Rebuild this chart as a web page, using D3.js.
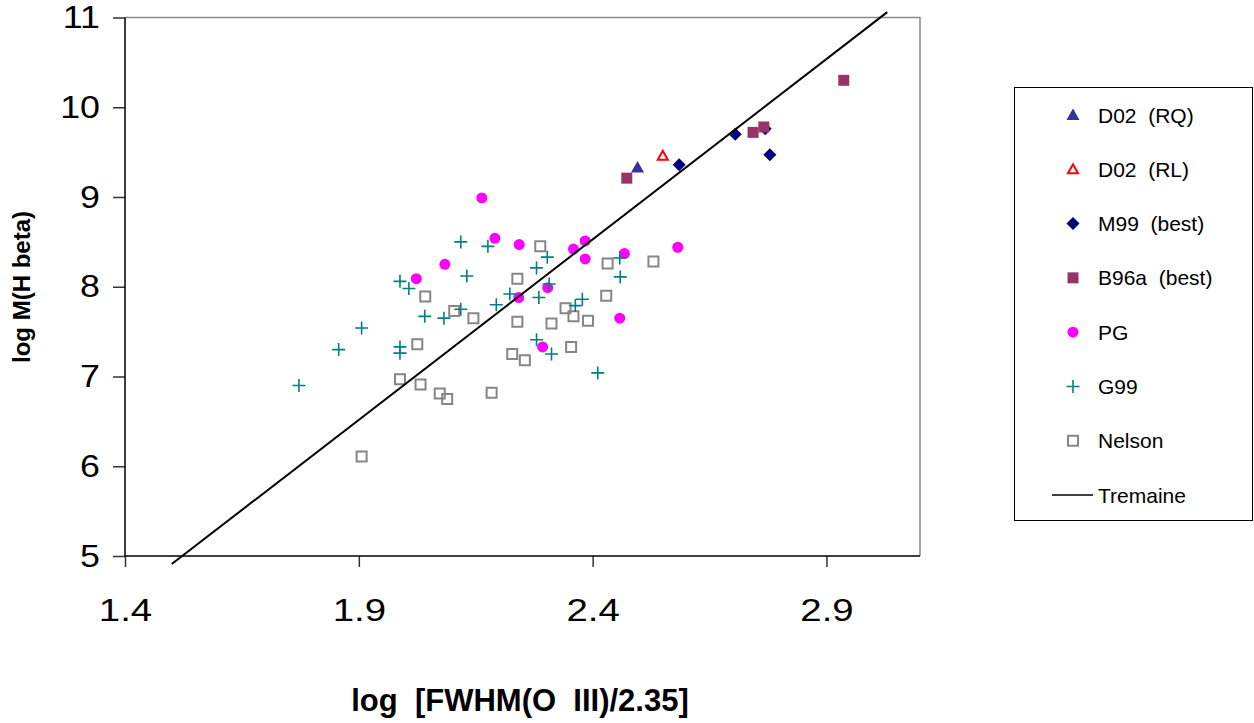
<!DOCTYPE html>
<html>
<head>
<meta charset="utf-8">
<script src="https://cdn.jsdelivr.net/npm/d3@7/dist/d3.min.js"></script>
<style>
	body { margin: 0; background: #fff; }
	svg { display: block; font-family: "Liberation Sans", Arial, sans-serif; }
	.tick line { stroke: #333; stroke-width: 1.5; }
	.tick text { fill: #000; }
	.domain { display: none; }
</style>
</head>
<body>
<div id="chart"></div>
<script>
// DATA
var seriesNames = ["D02  (RQ)", "D02  (RL)", "M99  (best)", "B96a  (best)", "PG", "G99", "Nelson", "Tremaine"];

var d02rqX = [2.496],
	d02rqY = [9.33];

var d02rlX = [2.550],
	d02rlY = [9.46];

var m99X = [2.585, 2.705, 2.769, 2.779],
	m99Y = [9.36, 9.70, 9.76, 9.47];

var b96X = [2.473, 2.743, 2.766, 2.937],
	b96Y = [9.21, 9.72, 9.78, 10.30];

var pgX = [2.163, 2.191, 2.084, 2.023, 2.243, 2.359, 2.384, 2.384, 2.468, 2.582, 2.304, 2.242, 2.458, 2.293],
	pgY = [8.99, 8.54, 8.25, 8.09, 8.47, 8.42, 8.51, 8.31, 8.37, 8.44, 7.99, 7.88, 7.65, 7.33];

var g99X = [1.772, 1.857, 1.906, 1.988, 2.007, 1.988, 1.988, 2.041, 2.082, 2.118, 2.131, 2.118, 2.176,
		2.194, 2.223, 2.280, 2.303, 2.307, 2.285, 2.280, 2.312, 2.363, 2.378, 2.411, 2.458, 2.459],
	g99Y = [6.90, 7.30, 7.54, 8.06, 7.98, 7.33, 7.26, 7.67, 7.65, 8.50, 8.12, 7.75, 8.45,
		7.80, 7.92, 8.21, 8.33, 8.03, 7.88, 7.41, 7.25, 7.79, 7.86, 7.04, 8.32, 8.11];

var nelsonX = [1.906, 1.988, 2.025, 2.032, 2.042, 2.073, 2.089, 2.104, 2.145, 2.184, 2.228, 2.239,
		2.239, 2.255, 2.288, 2.312, 2.342, 2.359, 2.354, 2.390, 2.429, 2.432, 2.530],
	nelsonY = [6.11, 6.97, 7.36, 6.91, 7.89, 6.81, 6.75, 7.73, 7.65, 6.82, 7.25, 7.61,
		8.09, 7.18, 8.45, 7.59, 7.76, 7.67, 7.33, 7.62, 7.90, 8.26, 8.28];

var tremaineX = [1.50, 3.03],
	tremaineY = [4.91, 11.06];

var xTicks = [1.4, 1.9, 2.4, 2.9],
	yTicks = [5, 6, 7, 8, 9, 10, 11];

// SETUP
var W = 1254, H = 723;
var plot = { left: 125, right: 920, top: 17.5, bottom: 556 };

var svg = d3.select("#chart").append("svg")
	.attr("width", W)
	.attr("height", H);

var x = d3.scaleLinear().domain([1.4, 3.1]).range([plot.left, plot.right]),
	y = d3.scaleLinear().domain([5, 11]).range([plot.bottom, plot.top]);

function zip(xs, ys) {
	return xs.map(function(v, i) { return [v, ys[i]]; });
}

// marker shapes
var shapes = {
	triangle: "M0,-6.5L6.5,5L-6.5,5Z",
	otri: "M0,-5L5,4L-5,4Z",
	diamond: "M0,-6.5L6.5,0L0,6.5L-6.5,0Z",
	square: "M-5.5,-5.5H5.5V5.5H-5.5Z",
	osquare: "M-5,-5H5V5H-5Z",
	plus: "M-6.5,0H6.5M0,-6.5V6.5",
	circle: "M5.5,0A5.5,5.5 0 1,1 -5.5,0A5.5,5.5 0 1,1 5.5,0Z"
};

// series, in drawing order (later ones are on top)
var series = [
	{ pts: zip(pgX, pgY), shape: "circle", fill: "#ff00ff", stroke: "none", sw: 0 },
	{ pts: zip(nelsonX, nelsonY), shape: "osquare", fill: "none", stroke: "#868686", sw: 2 },
	{ pts: zip(g99X, g99Y), shape: "plus", fill: "none", stroke: "#008080", sw: 1.6 },
	{ pts: zip(m99X, m99Y), shape: "diamond", fill: "#000080", stroke: "none", sw: 0 },
	{ pts: zip(b96X, b96Y), shape: "square", fill: "#993366", stroke: "none", sw: 0 },
	{ pts: zip(d02rqX, d02rqY), shape: "triangle", fill: "#333399", stroke: "none", sw: 0 },
	{ pts: zip(d02rlX, d02rlY), shape: "otri", fill: "none", stroke: "#ff0000", sw: 2 }
];

// AXES
var yAxis = d3.axisLeft(y).tickValues(yTicks).tickSize(12).tickPadding(13).tickFormat(d3.format("d"));
var xAxis = d3.axisBottom(x).tickValues(xTicks).tickSize(11).tickPadding(31).tickFormat(d3.format(".1f"));

var yg = svg.append("g")
	.attr("transform", "translate(" + plot.left + ",0)")
	.call(yAxis);
// labels in the original are a little stretched sideways
yg.selectAll("text")
	.style("font-size", "32px")
	.attr("x", -25 / 1.12)
	.attr("transform", "scale(1.12,1)");

var xg = svg.append("g")
	.attr("transform", "translate(0," + plot.bottom + ")")
	.call(xAxis);
xg.selectAll("text")
	.style("font-size", "32px")
	.attr("transform", "scale(1.2,1)");

// plot frame: grey top/right, black left/bottom
svg.append("path")
	.attr("d", "M" + plot.left + "," + plot.top + "H" + plot.right + "V" + plot.bottom)
	.attr("fill", "none")
	.attr("stroke", "#8a8a8a")
	.attr("stroke-width", 1.5);

svg.append("path")
	.attr("d", "M" + plot.left + "," + plot.top + "V" + plot.bottom + "H" + plot.right)
	.attr("fill", "none")
	.attr("stroke", "#000")
	.attr("stroke-width", 1.5);

// DATA LAYER
var data_layer = svg.append("g").classed("data", true);

series.forEach(function(s) {
	data_layer.append("g")
		.selectAll("path")
		.data(s.pts)
		.enter().append("path")
		.attr("transform", function(d) { return "translate(" + x(d[0]) + "," + y(d[1]) + ")"; })
		.attr("d", shapes[s.shape])
		.attr("fill", s.fill)
		.attr("stroke", s.stroke)
		.attr("stroke-width", s.sw);
});

var line = d3.line()
	.x(function(d) { return x(d[0]); })
	.y(function(d) { return y(d[1]); });

data_layer.append("path")
	.datum(zip(tremaineX, tremaineY))
	.attr("d", line)
	.attr("fill", "none")
	.attr("stroke", "#000")
	.attr("stroke-width", 2);

// AXIS TITLES
svg.append("text")
	.attr("transform", "translate(30,287)rotate(-90)")
	.attr("text-anchor", "middle")
	.style("font-size", "24px")
	.style("font-weight", "bold")
	.style("white-space", "pre")
	.text("log M(H beta)");

svg.append("text")
	.attr("x", 520)
	.attr("y", 711)
	.attr("text-anchor", "middle")
	.style("font-size", "31px")
	.style("font-weight", "bold")
	.style("white-space", "pre")
	.text("log  [FWHM(O  III)/2.35]");

// LEGEND
var legend = svg.append("g").attr("class", "legend");

legend.append("rect")
	.attr("x", 1014.5)
	.attr("y", 87.5)
	.attr("width", 238)
	.attr("height", 433)
	.attr("fill", "#fff")
	.attr("stroke", "#000")
	.attr("stroke-width", 1);

var legendItems = [
	{ shape: "triangle", fill: "#333399", stroke: "none", sw: 0 },
	{ shape: "otri", fill: "none", stroke: "#ff0000", sw: 2 },
	{ shape: "diamond", fill: "#000080", stroke: "none", sw: 0 },
	{ shape: "square", fill: "#993366", stroke: "none", sw: 0 },
	{ shape: "circle", fill: "#ff00ff", stroke: "none", sw: 0 },
	{ shape: "plus", fill: "none", stroke: "#008080", sw: 1.6 },
	{ shape: "osquare", fill: "none", stroke: "#868686", sw: 2 },
	{ shape: "line", fill: "none", stroke: "#000", sw: 1.5 }
];

var ly = d3.scalePoint().domain(seriesNames).range([115, 495]);

var li = legend.selectAll("g.item")
	.data(legendItems)
	.enter().append("g")
	.attr("class", "item")
	.attr("transform", function(d, i) { return "translate(0," + ly(seriesNames[i]) + ")"; });

li.append("path")
	.attr("transform", "translate(1073,0)")
	.attr("d", function(d) { return d.shape === "line" ? "M-21,0H20" : shapes[d.shape]; })
	.attr("fill", function(d) { return d.fill; })
	.attr("stroke", function(d) { return d.stroke; })
	.attr("stroke-width", function(d) { return d.sw; });

li.append("text")
	.attr("x", 1098)
	.attr("y", 7.5)
	.style("font-size", "21px")
	.style("white-space", "pre")
	.text(function(d, i) { return seriesNames[i]; });
</script>
</body>
</html>
